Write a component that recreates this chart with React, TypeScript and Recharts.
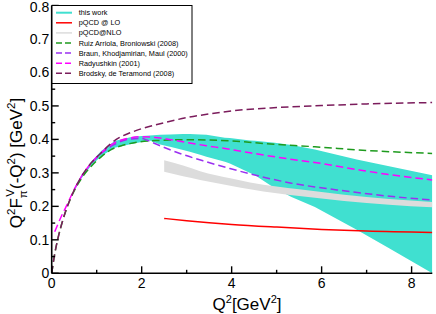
import React from 'react';
import { ComposedChart, Line, Area, XAxis, YAxis } from 'recharts';

const FONT = '"Liberation Sans", Arial, Helvetica, sans-serif';

// ---------- data ----------
const xTicks = [0, 1, 2, 3, 4, 5, 6, 7, 8];
const yTicks = [0, 0.05, 0.1, 0.15, 0.2, 0.25, 0.3, 0.35, 0.4, 0.45, 0.5, 0.55, 0.6, 0.65, 0.7, 0.75, 0.8];

// this work (band)
const bandX = [0.5, 0.66, 0.88, 1.1, 1.4, 1.77, 2.0, 2.18, 2.41, 2.63, 2.92, 3.07, 3.3, 3.44, 3.85, 3.96, 4.41, 4.52, 4.96, 5.33, 5.85, 6.78, 7.5, 8.46];
const bandLow = [0.245, 0.283, 0.322, 0.35, 0.375, 0.386, 0.392, 0.397, 0.385, 0.378, 0.368, 0.363, 0.354, 0.348, 0.333, 0.328, 0.3, 0.293, 0.254, 0.228, 0.198, 0.13, 0.075, 0.0];
const bandHigh = [0.255, 0.293, 0.334, 0.365, 0.395, 0.407, 0.41, 0.412, 0.414, 0.415, 0.416, 0.416, 0.415, 0.414, 0.405, 0.404, 0.397, 0.396, 0.39, 0.383, 0.37, 0.34, 0.32, 0.293];

// pQCD@NLO (band)
const nloX = [2.5, 2.92, 3.3, 4.0, 4.41, 5.0, 5.5, 6.5, 7.5, 8.46];
const nloLow = [0.303, 0.29, 0.279, 0.261, 0.251, 0.239, 0.231, 0.216, 0.205, 0.197];
const nloHigh = [0.338, 0.322, 0.305, 0.283, 0.271, 0.259, 0.251, 0.235, 0.222, 0.213];

// pQCD @ LO
const loX = [2.5, 3.0, 3.5, 4.0, 5.0, 6.0, 7.0, 8.46];
const loY = [0.164, 0.157, 0.151, 0.146, 0.138, 0.131, 0.126, 0.122];

// Ruiz Arriola, Broniowski (2008)
const ruizX = [0, 0.07, 0.14, 0.25, 0.36, 0.5, 0.66, 0.88, 1.1, 1.3, 1.6, 1.96, 2.4, 3.0, 3.5, 3.96, 4.78, 5.85, 7.0, 8.46];
const ruizY = [0, 0.06, 0.105, 0.16, 0.204, 0.246, 0.283, 0.32, 0.348, 0.368, 0.383, 0.393, 0.397, 0.399, 0.398, 0.396, 0.387, 0.378, 0.367, 0.358];

// Braun, Khodjamirian, Maul (2000)
const braunX = [0.9, 1.1, 1.4, 1.7, 2.0, 2.11, 2.41, 2.85, 3.44, 3.96, 4.78, 5.3, 5.85, 6.4, 7.52, 8.46];
const braunY = [0.332, 0.358, 0.385, 0.4, 0.403, 0.398, 0.381, 0.358, 0.333, 0.313, 0.285, 0.27, 0.258, 0.248, 0.23, 0.219];

// Radyushkin (2001)
const radX = [0.067, 0.21, 0.32, 0.5, 0.66, 0.88, 1.1, 1.4, 1.7, 2.0, 2.3, 2.7, 3.0, 3.44, 3.85, 4.41, 5.3, 5.85, 6.78, 7.5, 8.46];
const radY = [0.124, 0.169, 0.199, 0.25, 0.289, 0.329, 0.36, 0.39, 0.403, 0.408, 0.406, 0.398, 0.391, 0.381, 0.373, 0.36, 0.341, 0.331, 0.31, 0.295, 0.279];

// Brodsky, de Teramond (2008)
const brodX = [0, 0.07, 0.14, 0.25, 0.36, 0.5, 0.66, 0.88, 1.1, 1.3, 1.5, 1.75, 2.0, 2.5, 3.0, 3.5, 4.0, 5.0, 6.0, 7.0, 8.46];
const brodY = [0, 0.06, 0.105, 0.16, 0.204, 0.249, 0.289, 0.33, 0.36, 0.386, 0.405, 0.42, 0.432, 0.45, 0.465, 0.476, 0.485, 0.495, 0.501, 0.506, 0.51];

const legendNames = [
  'this work',
  'pQCD @ LO',
  'pQCD@NLO',
  'Ruiz Arriola, Broniowski (2008)',
  'Braun, Khodjamirian, Maul (2000)',
  'Radyushkin (2001)',
  'Brodsky, de Teramond (2008)',
];
const legendColors = ['#40e0d0', '#ff0000', '#dcdcdc', '#1e9b1e', '#9b30f0', '#ff00ff', '#7b1c5c'];
const legendDashed = [false, false, false, true, true, true, true];

// ---------- builders ----------
const pts = (xs: number[], ys: number[]) => xs.map((x, i) => ({ x, y: ys[i] }));
const rng = (xs: number[], lo: number[], hi: number[]) => xs.map((x, i) => ({ x, r: [lo[i], hi[i]] }));

const bandData = rng(bandX, bandLow, bandHigh);
const nloData = rng(nloX, nloLow, nloHigh);
const loData = pts(loX, loY);
const ruizData = pts(ruizX, ruizY);
const braunData = pts(braunX, braunY);
const radData = pts(radX, radY);
const brodData = pts(brodX, brodY);

const isMajorX = (v: number) => Math.abs(v / 2 - Math.round(v / 2)) < 1e-6;
const isMajorY = (v: number) => Math.abs(v * 10 - Math.round(v * 10)) < 1e-6;
const fmtY = (v: number) => (Math.abs(v) < 1e-9 ? '0' : v.toFixed(1));

const MAJ = 7;
const MIN = 3.5;
const TW = 1.4;

const BottomTick = (p: any) => {
  const { x, y, payload } = p;
  const v = payload.value;
  const major = isMajorX(v);
  return (
    <g>
      <line x1={x} x2={x} y1={y} y2={y - (major ? MAJ : MIN)} stroke="#000" strokeWidth={TW} />
      {major && (
        <text x={x} y={y + 14.5} textAnchor="middle" fontSize={14} fontFamily={FONT} fill="#000">
          {String(v)}
        </text>
      )}
    </g>
  );
};
const TopTick = (p: any) => {
  const { x, y, payload } = p;
  const major = isMajorX(payload.value);
  return <line x1={x} x2={x} y1={y} y2={y + (major ? MAJ : MIN)} stroke="#000" strokeWidth={TW} />;
};
const LeftTick = (p: any) => {
  const { x, y, payload } = p;
  const v = payload.value;
  const major = isMajorY(v);
  const top = v > 0.79;
  return (
    <g>
      <line x1={x} x2={x + (major ? MAJ : MIN)} y1={y} y2={y} stroke="#000" strokeWidth={TW} />
      {major && (
        <text x={x - 2.5} y={top ? y + 1.2 : y} dy="0.36em" textAnchor="end" fontSize={14} fontFamily={FONT} fill="#000">
          {fmtY(v)}
        </text>
      )}
    </g>
  );
};
const RightTick = (p: any) => {
  const { x, y, payload } = p;
  const major = isMajorY(payload.value);
  return <line x1={x} x2={x - (major ? MAJ : MIN)} y1={y} y2={y} stroke="#000" strokeWidth={TW} />;
};

const XTitle = (p: any) => {
  const vb = p.viewBox || { x: 52, y: 273, width: 380 };
  const cx = vb.x + vb.width / 2 + 5;
  const y = vb.y + 36.5;
  return (
    <text x={cx} y={y} textAnchor="middle" fontSize={17} fontFamily={FONT} fill="#000">
      Q<tspan fontSize={11} dy={-7}>2</tspan>
      <tspan dy={7}>[GeV</tspan>
      <tspan fontSize={11} dy={-7}>2</tspan>
      <tspan dy={7}>]</tspan>
    </text>
  );
};

const YTitle = () => {
  const cx = 22;
  const cy = 163;
  return (
    <text transform={`translate(${cx},${cy}) rotate(-90)`} textAnchor="middle" fontSize={17} fontFamily={FONT} fill="#000">
      Q<tspan fontSize={11.5} dy={-7}>2</tspan>
      <tspan dy={7}>F</tspan>
      <tspan fontSize={11.5} dy={5}>π</tspan>
      <tspan fontSize={11.5} dx={-6.5} dy={-13}>V</tspan>
      <tspan dy={8}>(-Q</tspan>
      <tspan fontSize={11.5} dy={-7}>2</tspan>
      <tspan dy={7}>) [GeV</tspan>
      <tspan fontSize={11.5} dy={-7}>2</tspan>
      <tspan dy={7}>]</tspan>
    </text>
  );
};

const LegendBox = () => {
  const top = 5.5;
  const left = 52;
  const step = 10.1;
  return (
    <svg width={436} height={314} style={{ position: 'absolute', left: 0, top: 0, pointerEvents: 'none' }}>
      <rect x={left} y={top} width={140} height={78} fill="#fff" stroke="#000" strokeWidth={1} />
      {legendNames.map((name, i) => {
        const cy = top + 7.2 + i * step;
        return (
          <g key={name}>
            <line
              x1={56}
              x2={72}
              y1={cy}
              y2={cy}
              stroke={legendColors[i]}
              strokeWidth={i === 0 ? 2 : 1.5}
              strokeDasharray={legendDashed[i] ? '6 3' : undefined}
            />
            <text x={78.7} y={cy} dy="0.35em" fontSize={7.3} fontFamily={FONT} fill="#000">
              {name}
            </text>
          </g>
        );
      })}
    </svg>
  );
};

export default function App() {
  const dash = '7.5 4';
  return (
    <div style={{ position: 'absolute', left: 0, top: 0, width: 436, height: 314, background: '#fff' }}>
      <ComposedChart width={436} height={314} margin={{ top: 5.5, right: 3.7, bottom: 0, left: 0 }}>
        <XAxis
          xAxisId="b"
          type="number"
          dataKey="x"
          domain={[0, 8.46]}
          ticks={xTicks}
          interval={0}
          allowDataOverflow
          height={40.7}
          tickSize={0}
          tickMargin={0}
          tick={<BottomTick />}
          axisLine={{ stroke: '#000', strokeWidth: 1.6 }}
          label={{ content: (p: any) => <XTitle {...p} /> }}
        />
        <XAxis
          xAxisId="t"
          orientation="top"
          type="number"
          dataKey="x"
          domain={[0, 8.46]}
          ticks={xTicks}
          interval={0}
          allowDataOverflow
          height={0}
          tickSize={0}
          tickMargin={0}
          tick={<TopTick />}
          axisLine={{ stroke: '#000', strokeWidth: 1.6 }}
        />
        <YAxis
          yAxisId="l"
          type="number"
          domain={[0, 0.8]}
          ticks={yTicks}
          interval={0}
          allowDataOverflow
          width={51.7}
          tickSize={0}
          tickMargin={0}
          tick={<LeftTick />}
          axisLine={{ stroke: '#000', strokeWidth: 1.6 }}
          label={{ content: () => <YTitle /> }}
        />
        <YAxis
          yAxisId="r"
          orientation="right"
          type="number"
          domain={[0, 0.8]}
          ticks={yTicks}
          interval={0}
          allowDataOverflow
          width={0}
          tickSize={0}
          tickMargin={0}
          tick={<RightTick />}
          axisLine={{ stroke: '#000', strokeWidth: 1.6 }}
        />
        <Area
          xAxisId="b"
          yAxisId="l"
          data={bandData}
          dataKey="r"
          type="linear"
          stroke="none"
          fill="#40e0d0"
          fillOpacity={1}
          isAnimationActive={false}
          dot={false}
          activeDot={false}
        />
        <Area
          xAxisId="b"
          yAxisId="l"
          data={nloData}
          dataKey="r"
          type="monotone"
          stroke="none"
          fill="#dcdcdc"
          fillOpacity={1}
          isAnimationActive={false}
          dot={false}
          activeDot={false}
        />
        <Line xAxisId="b" yAxisId="l" data={loData} dataKey="y" type="monotone" stroke="#ff0000" strokeWidth={1.5} dot={false} activeDot={false} isAnimationActive={false} />
        <Line xAxisId="b" yAxisId="l" data={ruizData} dataKey="y" type="monotone" stroke="#1e9b1e" strokeWidth={1.5} strokeDasharray={dash} dot={false} activeDot={false} isAnimationActive={false} />
        <Line xAxisId="b" yAxisId="l" data={braunData} dataKey="y" type="monotone" stroke="#9b30f0" strokeWidth={1.5} strokeDasharray={dash} dot={false} activeDot={false} isAnimationActive={false} />
        <Line xAxisId="b" yAxisId="l" data={radData} dataKey="y" type="monotone" stroke="#ff00ff" strokeWidth={1.5} strokeDasharray={dash} dot={false} activeDot={false} isAnimationActive={false} />
        <Line xAxisId="b" yAxisId="l" data={brodData} dataKey="y" type="monotone" stroke="#7b1c5c" strokeWidth={1.5} strokeDasharray={dash} dot={false} activeDot={false} isAnimationActive={false} />
      </ComposedChart>
      <LegendBox />
    </div>
  );
}
